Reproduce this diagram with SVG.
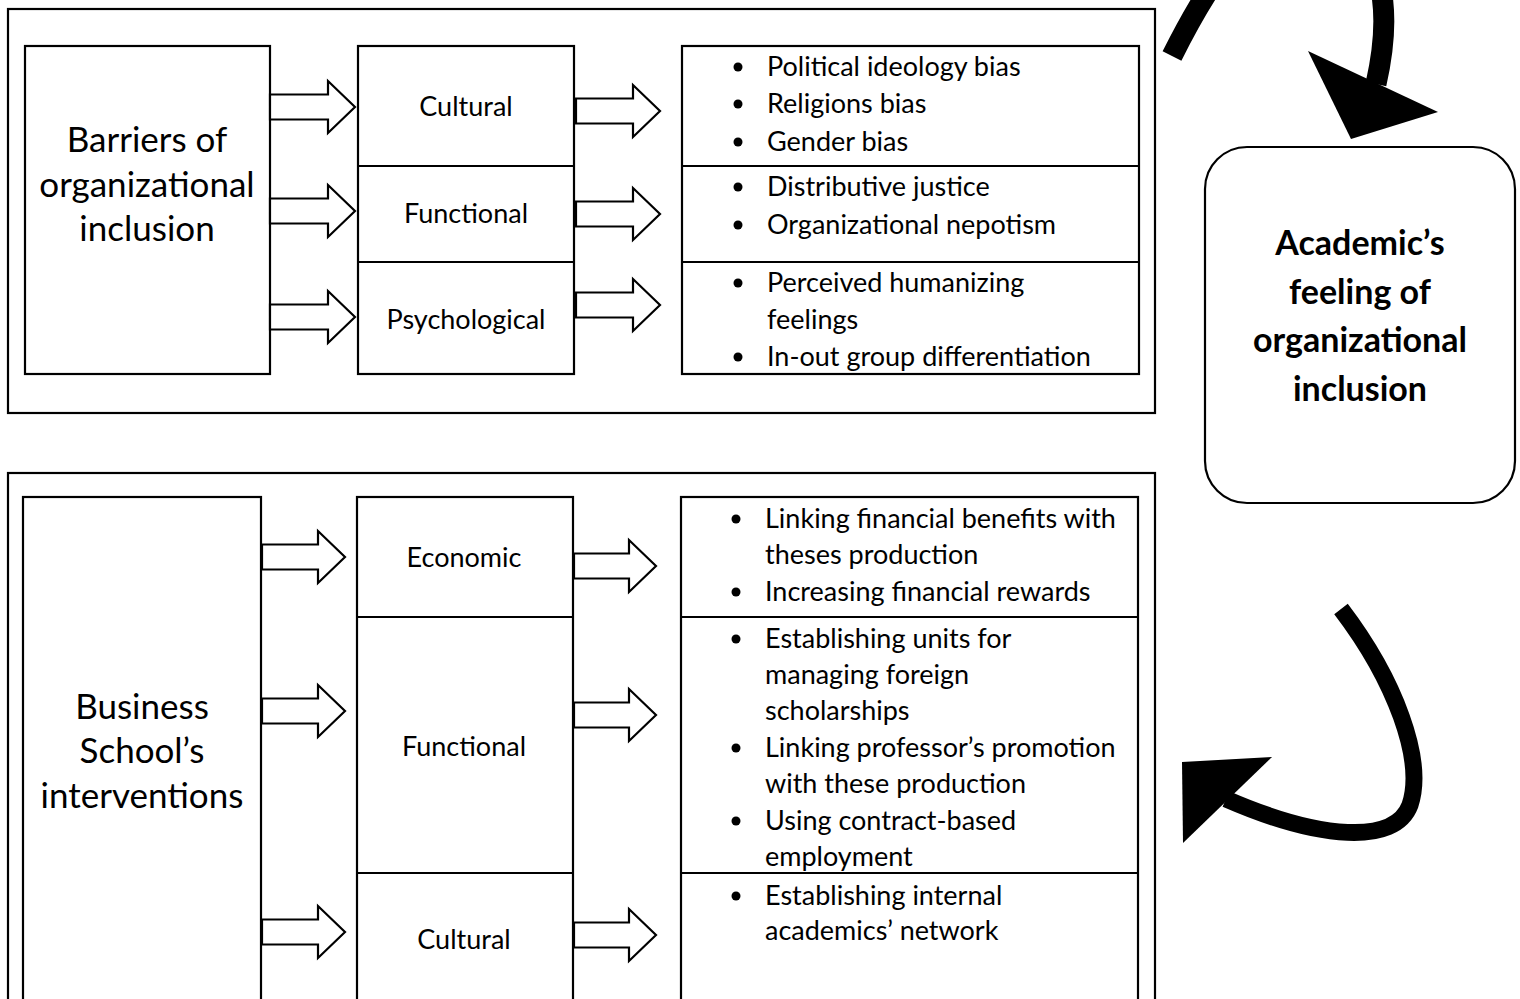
<svg xmlns="http://www.w3.org/2000/svg" width="1520" height="999" viewBox="0 0 1520 999">
<style>
.box{fill:#fff;stroke:#000;stroke-width:2.2}
.ln{stroke:#000;stroke-width:2.2}
.barr{fill:#fff;stroke:#000;stroke-width:2.2;stroke-linejoin:miter}
.t{font-family:Lato,"Liberation Sans",sans-serif;font-size:27px;fill:#000}
.big{font-family:Lato,"Liberation Sans",sans-serif;font-size:35px;fill:#000;text-anchor:middle}
.mid{text-anchor:middle}
.bold{font-family:Lato,"Liberation Sans",sans-serif;font-size:34px;font-weight:bold;fill:#000;text-anchor:middle}
.curve{fill:none;stroke:#000}
</style>
<rect width="1520" height="999" fill="#fff"/>

<g id="top-section">
<rect class="box" x="8" y="9" width="1147" height="404"/>
</g>
<g id="bottom-section">
<rect class="box" x="8" y="473" width="1147" height="540"/>
</g>

<g id="barriers">
<rect class="box" x="25" y="46" width="245" height="328"/>
<text class="big" x="147" y="152">Barriers of</text>
<text class="big" x="147" y="197">organizational</text>
<text class="big" x="147" y="241">inclusion</text>
</g>

<g id="top-dimensions">
<rect class="box" x="358" y="46" width="216" height="328"/>
<line class="ln" x1="358" y1="166" x2="574" y2="166"/>
<line class="ln" x1="358" y1="262" x2="574" y2="262"/>
<text class="t mid" x="466" y="116">Cultural</text>
<text class="t mid" x="466" y="223">Functional</text>
<text class="t mid" x="466" y="329">Psychological</text>
</g>

<g id="top-items">
<rect class="box" x="682" y="46" width="457" height="328"/>
<line class="ln" x1="682" y1="166" x2="1139" y2="166"/>
<line class="ln" x1="682" y1="262" x2="1139" y2="262"/>
<circle cx="738" cy="67" r="4.5"/><text class="t" x="767" y="76">Political ideology bias</text>
<circle cx="738" cy="104" r="4.5"/><text class="t" x="767" y="113">Religions bias</text>
<circle cx="738" cy="142" r="4.5"/><text class="t" x="767" y="151">Gender bias</text>
<circle cx="738" cy="187" r="4.5"/><text class="t" x="767" y="196">Distributive justice</text>
<circle cx="738" cy="225" r="4.5"/><text class="t" x="767" y="234">Organizational nepotism</text>
<circle cx="738" cy="283" r="4.5"/><text class="t" x="767" y="292">Perceived humanizing</text>
<text class="t" x="767" y="329">feelings</text>
<circle cx="738" cy="357" r="4.5"/><text class="t" x="767" y="366">In-out group differentiation</text>
</g>

<g id="interventions">
<rect class="box" x="23" y="497" width="238" height="520"/>
<text class="big" x="142" y="719">Business</text>
<text class="big" x="142" y="763">School’s</text>
<text class="big" x="142" y="808">interventions</text>
</g>

<g id="bottom-dimensions">
<rect class="box" x="357" y="497" width="216" height="520"/>
<line class="ln" x1="357" y1="617" x2="573" y2="617"/>
<line class="ln" x1="357" y1="873" x2="573" y2="873"/>
<text class="t mid" x="464" y="567">Economic</text>
<text class="t mid" x="464" y="756">Functional</text>
<text class="t mid" x="464" y="949">Cultural</text>
</g>

<g id="bottom-items">
<rect class="box" x="681" y="497" width="457" height="520"/>
<line class="ln" x1="681" y1="617" x2="1138" y2="617"/>
<line class="ln" x1="681" y1="873" x2="1138" y2="873"/>
<circle cx="736" cy="519" r="4.5"/><text class="t" x="765" y="528">Linking financial benefits with</text>
<text class="t" x="765" y="564">theses production</text>
<circle cx="736" cy="592" r="4.5"/><text class="t" x="765" y="601">Increasing financial rewards</text>
<circle cx="736" cy="639" r="4.5"/><text class="t" x="765" y="648">Establishing units for</text>
<text class="t" x="765" y="684">managing foreign</text>
<text class="t" x="765" y="720">scholarships</text>
<circle cx="736" cy="748" r="4.5"/><text class="t" x="765" y="757">Linking professor’s promotion</text>
<text class="t" x="765" y="793">with these production</text>
<circle cx="736" cy="821" r="4.5"/><text class="t" x="765" y="830">Using contract-based</text>
<text class="t" x="765" y="866">employment</text>
<circle cx="736" cy="896" r="4.5"/><text class="t" x="765" y="905">Establishing internal</text>
<text class="t" x="765" y="940">academics’ network</text>
</g>

<g id="outcome">
<rect class="box" x="1205" y="147" width="310" height="356" rx="42" ry="42"/>
<text class="bold" x="1360" y="255">Academic’s</text>
<text class="bold" x="1360" y="304">feeling of</text>
<text class="bold" x="1360" y="352">organizational</text>
<text class="bold" x="1360" y="401">inclusion</text>
</g>

<g id="connectors">
<polygon class="barr" points="270,94.5 328,94.5 328,81 355,107 328,133 328,119.5 270,119.5"/>
<polygon class="barr" points="270,198.5 328,198.5 328,185 355,211 328,237 328,223.5 270,223.5"/>
<polygon class="barr" points="270,304.5 328,304.5 328,291 355,317 328,343 328,329.5 270,329.5"/>
<polygon class="barr" points="576,98.5 633,98.5 633,85 660,111 633,137 633,123.5 576,123.5"/>
<polygon class="barr" points="576,201.5 633,201.5 633,188 660,214 633,240 633,226.5 576,226.5"/>
<polygon class="barr" points="576,292.5 633,292.5 633,279 660,305 633,331 633,317.5 576,317.5"/>

<polygon class="barr" points="262,544.5 318,544.5 318,531 345,557 318,583 318,569.5 262,569.5"/>
<polygon class="barr" points="262,698.5 318,698.5 318,685 345,711 318,737 318,723.5 262,723.5"/>
<polygon class="barr" points="262,919.5 318,919.5 318,906 345,932 318,958 318,944.5 262,944.5"/>
<polygon class="barr" points="574,553.5 629,553.5 629,540 656,566 629,592 629,578.5 574,578.5"/>
<polygon class="barr" points="574,702.5 629,702.5 629,689 656,715 629,741 629,727.5 574,727.5"/>
<polygon class="barr" points="574,922.5 629,922.5 629,909 656,935 629,961 629,947.5 574,947.5"/>

<path class="curve" stroke-width="21" d="M1172,56 C1215,-30 1260,-95 1320,-80 C1380,-65 1395,0 1376,84"/>
<polygon points="1308,51 1438,112 1351,139" fill="#000"/>

<path class="curve" stroke-width="17" d="M1341,609 C1395,680 1425,760 1410,805 C1395,845 1320,840 1226,799"/>
<polygon points="1182,762 1272,757 1183,843" fill="#000"/>
</g>
</svg>
